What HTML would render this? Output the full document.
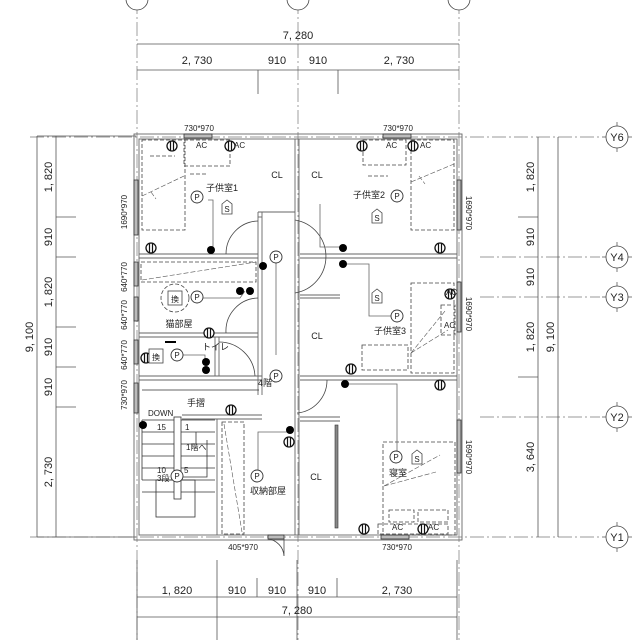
<!DOCTYPE html>
<html><head><meta charset="utf-8"><style>
html,body{margin:0;padding:0;background:#fff}
svg{display:block}
text{font-family:"Liberation Sans","Noto Sans CJK JP",sans-serif;fill:#222}
.d{font-size:11px}
.s{font-size:8px}
.m{font-size:9px}
</style></head><body>
<svg width="640" height="640" viewBox="0 0 640 640" xmlns="http://www.w3.org/2000/svg">
<defs>
<g id="o"><circle r="5" fill="#fff" stroke="#111" stroke-width="1.3"/><line x1="-1.5" y1="-5" x2="-1.5" y2="5" stroke="#111" stroke-width="1.2"/><line x1="1.5" y1="-5" x2="1.5" y2="5" stroke="#111" stroke-width="1.2"/></g>
<g id="p"><circle r="6" fill="#fff" stroke="#333" stroke-width="0.9"/><text x="0" y="3" font-size="8" text-anchor="middle">P</text></g>
<g id="sd"><path d="M-5,-3 L0,-7 L5,-3 L5,7 L-5,7Z" fill="#fff" stroke="#444" stroke-width="0.8"/><text x="0" y="5" font-size="8" text-anchor="middle">S</text></g>
</defs>
<!-- grid lines -->
<g stroke="#777" stroke-width="0.7" stroke-dasharray="14,3,2,3" fill="none">
<line x1="137" y1="0" x2="137" y2="640"/><line x1="298" y1="0" x2="298" y2="640"/><line x1="459" y1="0" x2="459" y2="640"/>
<line x1="30" y1="137" x2="600" y2="137"/><line x1="480" y1="257" x2="600" y2="257"/><line x1="480" y1="297" x2="600" y2="297"/>
<line x1="480" y1="417" x2="600" y2="417"/><line x1="30" y1="537" x2="600" y2="537"/>
</g>
<!-- bubbles -->
<g stroke="#444" stroke-width="0.8" fill="#fff">
<circle cx="137" cy="-1" r="11"/><circle cx="298" cy="-1" r="11"/><circle cx="459" cy="-1" r="11"/>
<circle cx="617" cy="137" r="11"/><circle cx="617" cy="257" r="11"/><circle cx="617" cy="297" r="11"/><circle cx="617" cy="417" r="11"/><circle cx="617" cy="537" r="11"/>
</g>
<g stroke="#444" stroke-width="0.7">
<line x1="602" y1="137" x2="606" y2="137"/><line x1="628" y1="137" x2="632" y2="137"/><line x1="617" y1="122" x2="617" y2="126"/><line x1="617" y1="148" x2="617" y2="152"/>
<line x1="602" y1="257" x2="606" y2="257"/><line x1="628" y1="257" x2="632" y2="257"/><line x1="617" y1="242" x2="617" y2="246"/><line x1="617" y1="268" x2="617" y2="272"/>
<line x1="602" y1="297" x2="606" y2="297"/><line x1="628" y1="297" x2="632" y2="297"/><line x1="617" y1="282" x2="617" y2="286"/><line x1="617" y1="308" x2="617" y2="312"/>
<line x1="602" y1="417" x2="606" y2="417"/><line x1="628" y1="417" x2="632" y2="417"/><line x1="617" y1="402" x2="617" y2="406"/><line x1="617" y1="428" x2="617" y2="432"/>
<line x1="602" y1="537" x2="606" y2="537"/><line x1="628" y1="537" x2="632" y2="537"/><line x1="617" y1="522" x2="617" y2="526"/><line x1="617" y1="548" x2="617" y2="552"/>
</g>
<g font-size="11" text-anchor="middle">
<text x="617" y="141">Y6</text><text x="617" y="261">Y4</text><text x="617" y="301">Y3</text><text x="617" y="421">Y2</text><text x="617" y="541">Y1</text>
</g>
<!-- dimension lines -->
<g stroke="#555" stroke-width="0.8" fill="none">
<line x1="137" y1="44" x2="459" y2="44"/><line x1="137" y1="70" x2="459" y2="70"/>
<line x1="258" y1="70" x2="258" y2="94"/><line x1="338" y1="70" x2="338" y2="94"/>
<line x1="137" y1="597" x2="457" y2="597"/><line x1="137" y1="617" x2="457" y2="617"/>
<line x1="137" y1="560" x2="137" y2="640"/><line x1="217" y1="560" x2="217" y2="640"/><line x1="297" y1="560" x2="297" y2="640"/><line x1="457" y1="560" x2="457" y2="640"/>
<line x1="257" y1="578" x2="257" y2="597"/><line x1="337" y1="578" x2="337" y2="597"/>
<line x1="37" y1="136" x2="37" y2="537"/><line x1="56" y1="136" x2="56" y2="537"/>
<line x1="37" y1="136" x2="136" y2="136"/><line x1="37" y1="537" x2="136" y2="537"/>
<line x1="56" y1="217" x2="76" y2="217"/><line x1="56" y1="257" x2="76" y2="257"/><line x1="56" y1="327" x2="76" y2="327"/><line x1="56" y1="367" x2="76" y2="367"/><line x1="56" y1="407" x2="76" y2="407"/>
<line x1="538" y1="137" x2="538" y2="537"/><line x1="558" y1="137" x2="558" y2="537"/>
<line x1="518" y1="217" x2="538" y2="217"/><line x1="518" y1="377" x2="538" y2="377"/>
</g>
<g class="d" text-anchor="middle">
<text x="298" y="39">7, 280</text>
<text x="197" y="64">2, 730</text><text x="277" y="64">910</text><text x="318" y="64">910</text><text x="399" y="64">2, 730</text>
<text x="177" y="594">1, 820</text><text x="237" y="594">910</text><text x="277" y="594">910</text><text x="317" y="594">910</text><text x="397" y="594">2, 730</text>
<text x="297" y="614">7, 280</text>
<text transform="translate(52,177) rotate(-90)">1, 820</text>
<text transform="translate(52,237) rotate(-90)">910</text>
<text transform="translate(52,292) rotate(-90)">1, 820</text>
<text transform="translate(52,347) rotate(-90)">910</text>
<text transform="translate(52,387) rotate(-90)">910</text>
<text transform="translate(52,472) rotate(-90)">2, 730</text>
<text transform="translate(33,337) rotate(-90)">9, 100</text>
<text transform="translate(534,177) rotate(-90)">1, 820</text>
<text transform="translate(534,237) rotate(-90)">910</text>
<text transform="translate(534,277) rotate(-90)">910</text>
<text transform="translate(534,337) rotate(-90)">1, 820</text>
<text transform="translate(534,457) rotate(-90)">3, 640</text>
<text transform="translate(554,337) rotate(-90)">9, 100</text>
</g>
<!-- walls -->
<g stroke="#666" stroke-width="0.9" fill="none">
<rect x="134" y="134" width="328" height="406"/><rect x="139" y="139" width="318" height="396"/>
<line x1="139" y1="254" x2="258" y2="254"/><line x1="139" y1="258" x2="258" y2="258"/>
<line x1="300" y1="254" x2="457" y2="254"/><line x1="300" y1="258" x2="457" y2="258"/>
<line x1="295" y1="139" x2="295" y2="535"/><line x1="299" y1="139" x2="299" y2="535"/>
<line x1="258" y1="212" x2="258" y2="395"/><line x1="262" y1="212" x2="262" y2="395"/>
<line x1="258" y1="212" x2="295" y2="212"/>
<line x1="139" y1="333" x2="258" y2="333"/><line x1="139" y1="337" x2="258" y2="337"/>
<line x1="139" y1="376" x2="262" y2="376"/><line x1="139" y1="380" x2="262" y2="380"/>
<line x1="215" y1="337" x2="215" y2="376"/><line x1="219" y1="337" x2="219" y2="376"/>
<line x1="300" y1="376" x2="457" y2="376"/><line x1="300" y1="380" x2="457" y2="380"/>
<line x1="182" y1="415" x2="262" y2="415"/><line x1="182" y1="419" x2="262" y2="419"/>
<line x1="217" y1="419" x2="217" y2="535"/><line x1="300" y1="417" x2="340" y2="417"/><line x1="300" y1="421" x2="340" y2="421"/>
<line x1="300" y1="295" x2="340" y2="295"/><line x1="300" y1="298" x2="340" y2="298"/>
<line x1="262" y1="217" x2="258" y2="217"/>
</g>
<rect x="335" y="425" width="3" height="103" fill="#888" stroke="#333" stroke-width="0.6"/>
<!-- windows -->
<g fill="#bbb" stroke="#333" stroke-width="0.8">
<rect x="184" y="134" width="28" height="4"/><rect x="383" y="134" width="28" height="4"/><rect x="381" y="535" width="28" height="4"/><rect x="268" y="535" width="16" height="4"/>
<rect x="134" y="180" width="4" height="55"/><rect x="134" y="262" width="4" height="24"/><rect x="134" y="297" width="4" height="24"/><rect x="134" y="340" width="4" height="24"/><rect x="134" y="383" width="4" height="30"/>
<rect x="457" y="180" width="4" height="50"/><rect x="457" y="282" width="4" height="50"/><rect x="457" y="420" width="4" height="53"/>
</g>
<!-- doors -->
<g stroke="#444" stroke-width="0.8" fill="none">
<path d="M226,254 A33,33 0 0 1 258,221"/><path d="M226,333 A33,33 0 0 1 258,298"/>
<path d="M219,342 A36,36 0 0 1 255,376"/>
<path d="M295,220 A37,37 0 0 1 295,293"/>
<path d="M297,413 A33,33 0 0 0 327,380"/>
<path d="M284,539 L284,556 A18,18 0 0 0 268,539"/>
</g>
<!-- furniture dashed -->
<g stroke="#444" stroke-width="0.8" fill="none" stroke-dasharray="4,2">
<rect x="142" y="140" width="43" height="90"/><rect x="184" y="140" width="46" height="26"/><line x1="190" y1="174" x2="208" y2="174"/><line x1="150" y1="156" x2="175" y2="156"/>
<rect x="141" y="262" width="115" height="20"/><circle cx="175" cy="298" r="14"/>
<rect x="363" y="140" width="43" height="25"/><line x1="368" y1="176" x2="388" y2="176"/>
<rect x="411" y="140" width="43" height="90"/>
<rect x="411" y="283" width="43" height="90"/><rect x="362" y="345" width="46" height="25"/><rect x="441" y="305" width="14" height="30"/>
<rect x="383" y="442" width="72" height="93"/><rect x="389" y="510" width="25" height="12"/><rect x="418" y="510" width="30" height="12"/><rect x="378" y="524" width="70" height="10"/>
<rect x="222" y="422" width="22" height="112"/>
</g>
<g stroke="#555" stroke-width="0.6" fill="none" stroke-dasharray="5,2">
<path d="M142,196 L184,176 M151,192 L156,199"/><path d="M142,280 L256,262"/>
<path d="M411,182 L454,164 M419,176 L425,184"/><path d="M411,353 L448,330 M411,353 L445,311"/><path d="M384,486 L436,472 M384,486 L440,455"/>
<path d="M224,424 L242,532"/>
</g>
<!-- stairs -->
<g stroke="#333" stroke-width="0.8" fill="none">
<line x1="142" y1="420" x2="215" y2="420"/><line x1="142" y1="432" x2="215" y2="432"/><line x1="142" y1="444" x2="215" y2="444"/><line x1="142" y1="456" x2="215" y2="456"/>
<line x1="142" y1="468" x2="215" y2="468"/><line x1="142" y1="480" x2="215" y2="480"/><line x1="142" y1="492" x2="215" y2="492"/>
<line x1="142" y1="420" x2="142" y2="480"/>
<rect x="174" y="417" width="7" height="82" fill="#fff"/>
<rect x="156" y="480" width="39" height="37"/>
<polyline points="181,477 207,477 207,440"/><polyline points="196,432 196,444"/>
<line x1="142" y1="390" x2="259" y2="390"/>
</g>
<!-- wiring lines -->
<g stroke="#666" stroke-width="0.8" fill="none">
<polyline points="208,200 213,200 213,247"/><polyline points="202,298 240,298 245,291"/><polyline points="180,355 205,355 205,362"/>
<polyline points="276,262 276,355"/><polyline points="276,376 276,382 274,382"/>
<polyline points="320,204 320,247 344,247"/><polyline points="345,264 369,264 369,316 395,316"/>
<polyline points="346,384 397,384 397,456"/><polyline points="258,472 258,432 287,432"/>
</g>
<!-- outlets -->
<g>
<use href="#o" x="172" y="146"/><use href="#o" x="230" y="146"/><use href="#o" x="151" y="248"/><use href="#o" x="209" y="333"/>
<use href="#o" x="362" y="146"/><use href="#o" x="413" y="146"/><use href="#o" x="440" y="248"/>
<use href="#o" x="450" y="294"/><use href="#o" x="351" y="369"/><use href="#o" x="440" y="385"/>
<use href="#o" x="364" y="529"/><use href="#o" x="423" y="529"/><use href="#o" x="231" y="410"/><use href="#o" x="289" y="442"/><use href="#o" x="146" y="358"/>
</g>
<!-- black dots -->
<g fill="#000">
<circle cx="211" cy="250" r="4"/><circle cx="263" cy="266" r="4"/><circle cx="240" cy="291" r="4"/><circle cx="250" cy="291" r="4"/>
<circle cx="206" cy="362" r="4"/><circle cx="206" cy="370" r="4"/>
<circle cx="343" cy="248" r="4"/><circle cx="343" cy="264" r="4"/><circle cx="345" cy="384" r="4"/><circle cx="290" cy="430" r="4"/><circle cx="143" cy="425" r="4"/>
</g>
<!-- P and S -->
<use href="#p" x="197" y="197"/><use href="#p" x="276" y="257"/><use href="#p" x="197" y="297"/><use href="#p" x="177" y="355"/><use href="#p" x="276" y="376"/>
<use href="#p" x="397" y="196"/><use href="#p" x="397" y="316"/><use href="#p" x="396" y="457"/><use href="#p" x="257" y="476"/><use href="#p" x="177" y="476"/>
<use href="#sd" x="227" y="207"/><use href="#sd" x="377" y="216"/><use href="#sd" x="377" y="296"/><use href="#sd" x="417" y="457"/>
<rect x="168" y="291" width="14" height="14" fill="#fff" stroke="#444" stroke-width="0.8"/><text x="175" y="302" class="s" text-anchor="middle">換</text>
<rect x="149" y="349" width="14" height="14" fill="#fff" stroke="#444" stroke-width="0.8"/><text x="156" y="360" class="s" text-anchor="middle">換</text>
<line x1="165" y1="342" x2="176" y2="342" stroke="#000" stroke-width="2"/>
<!-- labels -->
<g class="m">
<text x="222" y="191" text-anchor="middle">子供室1</text><text x="277" y="178" text-anchor="middle">CL</text><text x="317" y="178" text-anchor="middle">CL</text>
<text x="369" y="198" text-anchor="middle">子供室2</text><text x="390" y="334" text-anchor="middle">子供室3</text><text x="317" y="339" text-anchor="middle">CL</text>
<text x="398" y="476" text-anchor="middle">寝室</text><text x="316" y="480" text-anchor="middle">CL</text>
<text x="179" y="327" text-anchor="middle">猫部屋</text><text x="202" y="350">トイレ</text><text x="258" y="386">4階</text>
<text x="187" y="406">手摺</text><text x="148" y="416" class="s">DOWN</text><text x="157" y="430" class="s">15</text><text x="185" y="430" class="s">1</text>
<text x="186" y="450" class="s">1階へ</text><text x="157" y="473" class="s">10</text><text x="184" y="473" class="s">5</text><text x="157" y="481" class="s">3段</text>
<text x="268" y="494" text-anchor="middle">収納部屋</text>
<text x="199" y="131" class="s" text-anchor="middle">730*970</text><text x="398" y="131" class="s" text-anchor="middle">730*970</text>
<text x="397" y="550" class="s" text-anchor="middle">730*970</text><text x="243" y="550" class="s" text-anchor="middle">405*970</text>
<text x="196" y="148" class="s">AC</text><text x="234" y="148" class="s">AC</text><text x="386" y="148" class="s">AC</text><text x="420" y="148" class="s">AC</text>
<text x="444" y="328" class="s">AC</text><text x="446" y="295" class="s">AC</text><text x="392" y="530" class="s">AC</text><text x="428" y="530" class="s">AC</text>
</g>
<g class="s" text-anchor="middle">
<text transform="translate(127,212) rotate(-90)">1690*970</text>
<text transform="translate(127,277) rotate(-90)">640*770</text>
<text transform="translate(127,315) rotate(-90)">640*770</text>
<text transform="translate(127,355) rotate(-90)">640*770</text>
<text transform="translate(127,395) rotate(-90)">730*970</text>
<text transform="translate(466,213) rotate(90)">1690*970</text>
<text transform="translate(466,314) rotate(90)">1690*970</text>
<text transform="translate(466,457) rotate(90)">1690*970</text>
</g>
</svg>
</body></html>
